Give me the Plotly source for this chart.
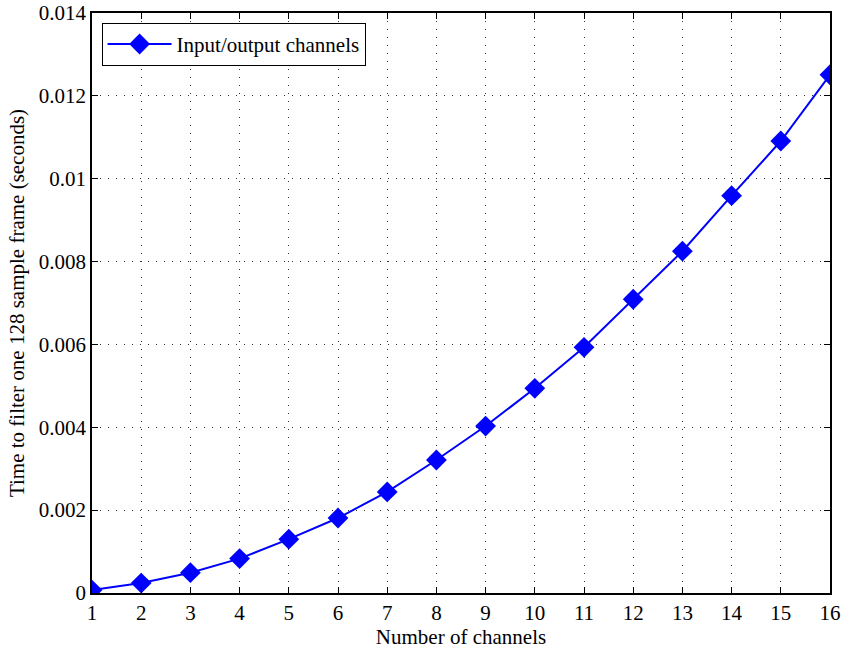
import plotly.graph_objects as go

channels = list(range(1, 17))
times = [0.00007, 0.00024, 0.00049, 0.00083, 0.0013, 0.00181, 0.00244, 0.00321,
         0.00403, 0.00494, 0.00593, 0.00709, 0.00825, 0.00959, 0.01091, 0.01251]
y_tickvals = [0, 0.002, 0.004, 0.006, 0.008, 0.01, 0.012, 0.014]
y_ticktext = ["0", "0.002", "0.004", "0.006", "0.008", "0.01", "0.012", "0.014"]

fig = go.Figure()
fig.add_trace(go.Scatter(
    x=channels, y=times, mode="lines+markers", name="Input/output channels",
    line=dict(color="#0000ff", width=2),
    marker=dict(symbol="diamond", size=16, color="#0000ff"),
))

font = dict(family="Liberation Serif, Times New Roman, serif", size=21, color="black")
axis_common = dict(
    showline=True, linecolor="black", linewidth=1.5, mirror="ticks",
    ticks="inside", ticklen=6, tickcolor="black", tickwidth=1,
    showgrid=True, gridcolor="#333333", griddash="1px,7px", gridwidth=1,
    zeroline=False, tickfont=font, automargin=False, ticklabeloverflow="allow",
)
fig.update_layout(
    width=842, height=649,
    margin=dict(l=92, r=12, t=13, b=56),
    paper_bgcolor="white", plot_bgcolor="white",
    font=font,
    showlegend=True,
    legend=dict(x=0.013, y=0.983, xanchor="left", yanchor="top",
                bordercolor="black", borderwidth=1, bgcolor="white",
                itemwidth=64, font=font),
    xaxis=dict(range=[1, 16], tickvals=channels,
               title=dict(text="Number of channels", font=font, standoff=0),
               **axis_common),
    yaxis=dict(range=[0, 0.014], tickvals=y_tickvals, ticktext=y_ticktext,
               title=dict(text="Time to filter one 128 sample frame (seconds)", font=font, standoff=8),
               **axis_common),
)
fig.write_html("out.html", config={"displayModeBar": False},
               post_script="document.body.style.margin='0';")
